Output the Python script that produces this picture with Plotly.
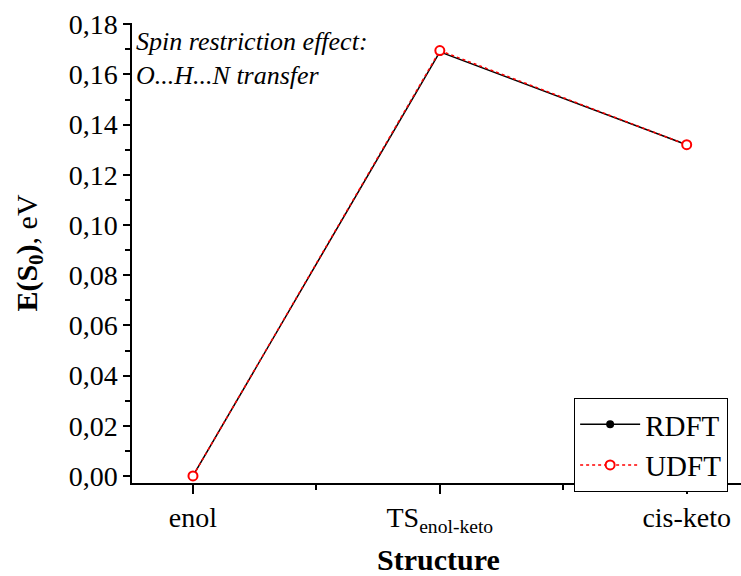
import plotly.graph_objects as go

categories = ["enol", "TS<sub>enol-keto</sub>", "cis-keto"]
x_pos = [0, 1, 2]
rdft = [0.0, 0.169, 0.132]
udft = [0.0, 0.1695, 0.132]

fig = go.Figure()
fig.add_trace(go.Scatter(
    x=x_pos, y=rdft, name="RDFT", mode="lines+markers",
    line=dict(color="black", width=1.5),
    marker=dict(symbol="circle", color="black", size=8),
))
fig.add_trace(go.Scatter(
    x=x_pos, y=udft, name="UDFT", mode="lines+markers",
    line=dict(color="red", width=1.5, dash="dot"),
    marker=dict(symbol="circle", color="white", size=9, line=dict(width=2, color="red")),
))

fig.add_annotation(
    x=0.003, y=0.995, xref="paper", yref="paper", xanchor="left", yanchor="top",
    text="<i>Spin restriction effect:<br>O...H...N transfer</i>", showarrow=False, align="left",
    font=dict(family="Liberation Serif", size=26, color="black"),
)
fig.add_annotation(
    x=0.504, y=-0.166, xref="paper", yref="paper", xanchor="center", yanchor="middle",
    text="<b>Structure</b>", showarrow=False, borderpad=0,
    font=dict(family="Liberation Serif", size=30, color="black"),
)

fig.update_layout(
    width=741, height=576,
    margin=dict(l=132, r=0, t=23, b=93),
    paper_bgcolor="white", plot_bgcolor="white",
    separators=",.",
    font=dict(family="Liberation Serif", color="black", size=26),
    showlegend=True,
    legend=dict(
        x=0.726, y=0.185, xanchor="left", yanchor="top",
        bordercolor="black", borderwidth=1, bgcolor="white",
        font=dict(family="Liberation Serif", size=29),
        itemwidth=60, tracegroupgap=0,
    ),
    xaxis=dict(
        range=[-0.247, 2.22],
        tickvals=x_pos, ticktext=categories,
        ticks="outside", ticklen=9, tickwidth=1.5, tickcolor="black",
        minor=dict(tickvals=[0.5, 1.5], ticks="outside", ticklen=5, tickwidth=1.5, tickcolor="black"),
        showline=True, linecolor="black", linewidth=1.5,
        showgrid=False, zeroline=False, automargin=False,
        tickfont=dict(size=28),
    ),
    yaxis=dict(
        range=[-0.0028, 0.1805],
        tickvals=[0, 0.02, 0.04, 0.06, 0.08, 0.10, 0.12, 0.14, 0.16, 0.18],
        tickformat=".2f",
        ticks="outside", ticklen=7, tickwidth=1.5, tickcolor="black",
        minor=dict(dtick=0.01, ticks="outside", ticklen=5, tickwidth=1.5, tickcolor="black"),
        showline=True, linecolor="black", linewidth=1.5,
        showgrid=False, zeroline=False, automargin=False,
        tickfont=dict(size=28),
        title=dict(text="<b>E(S<sub>0</sub>)</b>, eV", font=dict(size=30), standoff=22),
    ),
)

fig.write_html("out.html", config={"displayModeBar": False},
               post_script="document.body.style.margin='0';document.body.style.padding='0';")
